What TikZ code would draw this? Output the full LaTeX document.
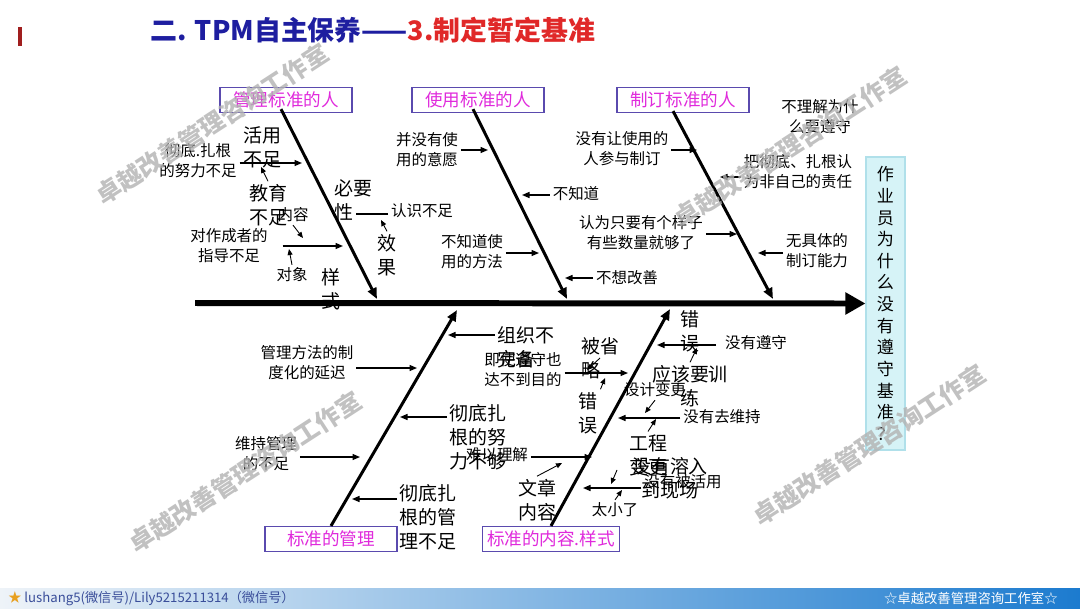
\documentclass[tikz,border=0pt]{standalone}
\usepackage{fontspec}
\setmainfont{Noto Sans CJK SC}
\usetikzlibrary{arrows.meta, positioning}
\definecolor{titleblue}{HTML}{1E1EA0}
\definecolor{titlered}{HTML}{E02828}
\definecolor{barred}{HTML}{A01E1E}
\definecolor{catborder}{HTML}{5A4AAE}
\definecolor{cattext}{HTML}{E02ADC}
\definecolor{headfill}{HTML}{D6F3F7}
\definecolor{headborder}{HTML}{B0E0EA}
\definecolor{footleft}{HTML}{EEF3F8}
\definecolor{footmid}{HTML}{A9CDEB}
\definecolor{footright}{HTML}{1C7BCF}
\definecolor{foottext}{HTML}{3A4E9A}
\definecolor{footstar}{HTML}{E8A020}

\begin{document}
\begin{tikzpicture}[x=0.2mm, y=-0.2mm,
    catbox/.style={rectangle, draw=catborder, line width=0.7pt, fill=white, minimum width=26.4mm, minimum height=5mm, inner sep=1pt, font=\fontsize{10}{12}\selectfont, text=cattext},
    smalltext/.style={align=center, inner sep=1.5pt, font=\fontsize{8.8}{11.4}\selectfont},
    bigtext/.style={align=left, inner sep=1.5pt, font=\fontsize{10.8}{13.6}\selectfont},
    spineline/.style={line width=3.4pt, -{Triangle[length=4mm, width=4.2mm]}},
    boneline/.style={line width=1.7pt, -{Triangle[length=2.2mm, width=1.8mm]}},
    causearrow/.style={line width=0.8pt, -{Triangle[length=1.5mm, width=1.2mm]}},
    ticklink/.style={line width=0.5pt, -{Triangle[length=1.2mm, width=1mm]}},
    watermark/.style={rotate=33, inner sep=0pt, text=gray!60, text opacity=0.8, font=\fontsize{14}{14}\bfseries\selectfont}
]
\useasboundingbox (0,0) rectangle (1080,608);

% Title
\fill[barred] (18,27) rectangle (22,46);
\node[anchor=west, inner sep=0pt, font=\fontsize{15.3}{18}\bfseries\selectfont] (title) at (150,30)
    {\textcolor{titleblue}{二. TPM自主保养——}\textcolor{titlered}{3.制定暂定基准}};

% Head and spine
\node[draw=headborder, fill=headfill, line width=0.6pt, minimum width=7.8mm, minimum height=58.6mm, inner sep=0pt, align=center, font=\fontsize{9.7}{12.3}\selectfont] (head) at (885.5,303.5)
    {作\\业\\员\\为\\什\\么\\没\\有\\遵\\守\\基\\准\\？};
\coordinate (tail) at (195,303);
\draw[spineline] (tail) -- (head.west);

% Category boxes
\node[catbox] (cat1) at (286,100) {管理标准的人};
\node[catbox] (cat2) at (478,100) {使用标准的人};
\node[catbox] (cat3) at (683,100) {制订标准的人};
\node[catbox] (cat4) at (331,539) {标准的管理};
\node[catbox, minimum width=27.4mm] (cat5) at (551,539) {标准的内容.样式};

% Bones
\coordinate (t1) at (377,299);
\coordinate (t2) at (567,299);
\coordinate (t3) at (773,299);
\coordinate (t4) at (457,310);
\coordinate (t5) at (670,309);
\draw[boneline] ([shift={(-5,-4)}]cat1.south) -- (t1);
\draw[boneline] ([shift={(-5,-4)}]cat2.south) -- (t2);
\draw[boneline] ([shift={(-10,-2)}]cat3.south) -- (t3);
\draw[boneline] (cat4.north) -- (t4);
\draw[boneline] (cat5.north) -- (t5);

% Arrow ends on the bones
\foreach \n/\x/\y in {a1/302/163, a2/343/246, a3/356/214, a4/488/150, a5/522/195, a6/539/253,
    a7/565/278, a8/697/150, a9/720/177, a10/737/234, a11/758/253, a12/417/368, a13/448/335,
    a14/628/373, a15/400/417, a16/592/457, a17/360/457, a18/352/499, a19/657/345, a20/618/418,
    a21/583/488, k1/261/167, k2/303/238, k3/289/249, k4/381/220, k5/587/370, k6/605/378,
    k7/562/463, k8/697/348, k9/645/413, k10/656/419, k11/611/484, k12/622/490}
    \coordinate (\n) at (\x,\y);

% Managers of the standard
\node[smalltext] (n1) at (198,161) {彻底.扎根\\的努力不足};
\node[bigtext] (b1) at (262,147) {活用\\不足};
\node[bigtext] (b2) at (268,205) {教育\\不足};
\node[smalltext] (n2) at (293,215) {内容};
\node[smalltext] (n3) at (229,246) {对作成者的\\指导不足};
\node[smalltext] (n4) at (292,275) {对象};
\node[bigtext] (b3) at (331,289) {样\\式};
\node[bigtext, anchor=west] (b4) at (332,200) {必要\\性};
\node[smalltext] (n5) at (422,211) {认识不足};
\node[bigtext] (b5) at (387,255) {效\\果};
\draw[causearrow] (n1.east |- a1) -- (a1);
\draw[causearrow] (n3.east |- a2) ++(12,0) -- (a2);
\draw[line width=0.8pt] (n5.west |- a3) -- (a3);
\draw[ticklink] (b2.north) -- (k1);
\draw[ticklink] (n2.south) -- (k2);
\draw[ticklink] (n4.north) -- (k3);
\draw[ticklink] (b5.north) -- (k4);

% Users of the standard
\node[smalltext] (n6) at (427,150) {并没有使\\用的意愿};
\node[smalltext] (n7) at (576,194) {不知道};
\node[smalltext] (n8) at (472,252) {不知道使\\用的方法};
\node[smalltext] (n9) at (627,278) {不想改善};
\draw[causearrow] (n6.east |- a4) -- (a4);
\draw[causearrow] (n7.west |- a5) -- (a5);
\draw[causearrow] (n8.east |- a6) -- (a6);
\draw[causearrow] (n9.west |- a7) -- (a7);

% Makers of the standard
\node[smalltext] (n10) at (622,149) {没有让使用的\\人参与制订};
\node[smalltext] (n11) at (798,172) {把彻底、扎根认\\为非自己的责任};
\node[smalltext] (n12) at (820,117) {不理解为什\\么要遵守};
\node[smalltext] (n13) at (641,233) {认为只要有个样子\\有些数量就够了};
\node[smalltext] (n14) at (817,251) {无具体的\\制订能力};
\draw[causearrow] (n10.east |- a8) -- (a8);
\draw[causearrow] (n11.west |- a9) -- (a9);
\draw[causearrow] (n13.east |- a10) -- (a10);
\draw[causearrow] (n14.west |- a11) -- (a11);

% Management of the standard
\node[smalltext] (n15) at (307,363) {管理方法的制\\度化的延迟};
\node[bigtext, anchor=west] (b6) at (495,347) {组织不\\完备};
\node[bigtext, anchor=west] (b9) at (447,437) {彻底扎\\根的努\\力不够};
\node[smalltext] (n18) at (266,454) {维持管理\\的不足};
\node[bigtext, anchor=west] (b11) at (397,517) {彻底扎\\根的管\\理不足};
\draw[causearrow] (n15.east |- a12) -- (a12);
\draw[causearrow] (b6.west |- a13) -- (a13);
\draw[causearrow] (b9.west |- a15) -- (a15);
\draw[causearrow] (n18.east |- a17) -- (a17);
\draw[causearrow] (b11.west |- a18) -- (a18);

% Content and form of the standard
\node[smalltext] (n16) at (523,370) {即使遵守也\\达不到目的};
\node[bigtext] (b7) at (600,358) {被省\\略};
\node[bigtext] (b8) at (588,413) {错\\误};
\node[smalltext] (n17) at (497,455) {难以理解};
\node[bigtext] (b10) at (537,500) {文章\\内容};
\node[bigtext] (b12) at (690,331) {错\\误};
\node[smalltext] (n19) at (756,343) {没有遵守};
\node[bigtext, align=center] (b13) at (690,386) {应该要训\\练};
\node[smalltext] (n20) at (655,390) {设计变更};
\node[smalltext] (n21) at (722,417) {没有去维持};
\node[bigtext] (b14) at (648,455) {工程\\变更};
\node[bigtext, align=center] (b15) at (670,478) {没有溶入\\到现场};
\node[smalltext] (n22) at (683,482) {没有被活用};
\node[smalltext] (n23) at (615,510) {太小了};
\draw[causearrow] (n16.east |- a14) -- (a14);
\draw[causearrow] (n17.east |- a16) -- (a16);
\draw[causearrow] (n19.west |- a19) ++(-6,0) -- (a19);
\draw[causearrow] (n21.west |- a20) -- (a20);
\draw[causearrow] (n22.west |- a21) -- (a21);
\draw[ticklink] (b7.center) -- (k5);
\draw[ticklink] (b8.north east) -- (k6);
\draw[ticklink] (b10.north) -- (k7);
\draw[ticklink] (b13.north) -- (k8);
\draw[ticklink] (n20.south) -- (k9);
\draw[ticklink] (b14.north) -- (k10);
\draw[ticklink] ([shift={(-9,15)}]b14.west) -- (k11);
\draw[ticklink] (n23.north) -- (k12);

% Footer
\shade[left color=footleft, middle color=footmid, right color=footright] (0,588) rectangle (1080,608);
\node[anchor=west, inner sep=0pt, text=foottext, font=\fontsize{7.5}{9}\selectfont] (footl) at (8,598)
    {\textcolor{footstar}{★} lushang5(微信号)/Lily5215211314（微信号）};
\node[anchor=east, inner sep=0pt, text=white, font=\fontsize{7.6}{9}\selectfont] (footr) at (1058,598)
    {☆卓越改善管理咨询工作室☆};

% Watermarks
\foreach \i/\x/\y in {1/212/124, 2/790/147, 3/245/472, 4/869/445}
    \node[watermark] (wm\i) at (\x,\y) {卓越改善管理咨询工作室};

\end{tikzpicture}
\end{document}
